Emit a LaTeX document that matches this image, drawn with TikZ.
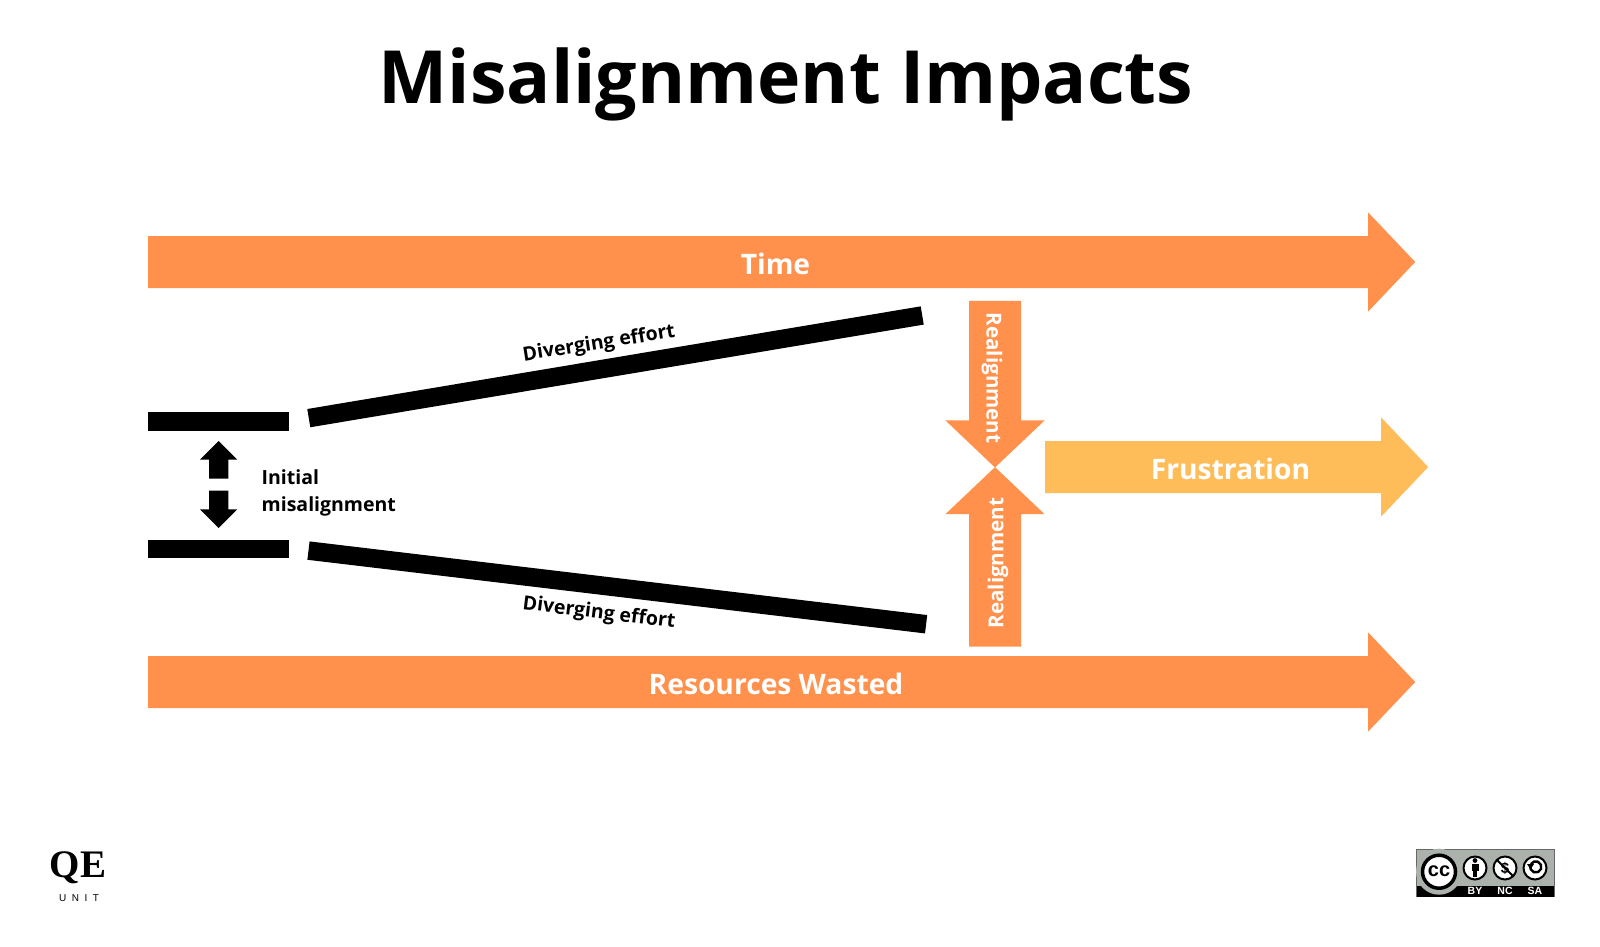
\documentclass[tikz,border=0pt]{standalone}
\usepackage{fontspec}
\usetikzlibrary{shapes.arrows}
\setmainfont{Open Sans}
\newfontfamily\logofont{Liberation Serif}
\newfontfamily\unitfont[LetterSpace=55]{Liberation Sans}
\newfontfamily\badgefont{Liberation Sans}
\definecolor{orangefill}{HTML}{FF914D}
\definecolor{yellowfill}{HTML}{FFBD59}
\definecolor{badgegrey}{HTML}{AAB2AB}
\tikzset{
	bigarrow/.style={single arrow,anchor=tail,fill=#1,inner xsep=0pt,inner ysep=25.8pt,single arrow tip angle=93,single arrow head indent=0pt,single arrow head extend=23.6pt},
	bigarrow/.default=orangefill,
	smallarrow/.style={single arrow,anchor=tail,fill=black,inner xsep=0pt,inner ysep=9.5pt,minimum height=37.5pt,single arrow head extend=9pt,single arrow tip angle=90,single arrow head indent=0pt},
	beam/.style={fill=black,inner sep=0pt,minimum width=622pt,minimum height=18.5pt},
	bar/.style={fill=black,inner sep=0pt,minimum width=141pt,minimum height=18.5pt},
	whitetext/.style={text=white,font=\bfseries\fontsize{28.2}{28.2}\selectfont,inner sep=0pt},
	smalltext/.style={font=\bfseries\fontsize{19.5}{27}\selectfont,inner sep=0pt},
	sidetext/.style={text=white,font=\bfseries\fontsize{20.6}{20.6}\selectfont,inner sep=0pt},
	badgelabel/.style={text=white,font=\badgefont\bfseries\fontsize{10.5}{10.5}\selectfont,inner sep=0pt}
}
\begin{document}
\begin{tikzpicture}[x=1pt,y=-1pt]
	\useasboundingbox (0,0) rectangle (1600,946);
	\node[anchor=base,inner sep=0pt,font=\bfseries\fontsize{73.4}{73.4}\selectfont] (title) at (786,103) {Misalignment Impacts};
	% long arrows
	\node[bigarrow,minimum height=1267pt] (timearrow) at (148,262) {};
	\node[bigarrow,minimum height=1267pt] (wastearrow) at (148,682) {};
	\node[bigarrow=yellowfill,minimum height=383pt] (frustarrow) at (1045,467) {};
	\node[whitetext] (timelabel) at (775.5,264) {Time};
	\node[whitetext] (wastelabel) at (776,684) {Resources Wasted};
	\node[whitetext] (frustlabel) at (1230.5,469) {Frustration};
	% realignment arrows
	\node[bigarrow,rotate=-90,minimum height=166.6pt] (realigntop) at (995,300.7) {};
	\node[bigarrow,rotate=90,minimum height=179.4pt] (realignbot) at (995,646.7) {};
	\node[sidetext,rotate=-90] (toplabel) at (992,378) {Realignment};
	\node[sidetext,rotate=90] (botlabel) at (998,563) {Realignment};
	% bars and beams
	\node[bar] (barup) at (218.5,421.7) {};
	\node[bar] (bardown) at (218.5,549) {};
	\node[beam,rotate=9.5] (beamup) at (615.5,366.8) {};
	\node[beam,rotate=-6.8] (beamdown) at (617.3,587.4) {};
	\node[smalltext,rotate=9] (divergeup) at (599,344) {Diverging effort};
	\node[smalltext,rotate=-7] (divergedown) at (599,613.5) {Diverging effort};
	% initial misalignment
	\node[smallarrow,rotate=90] (smallup) at (218.7,478.7) {};
	\node[smallarrow,rotate=-90] (smalldown) at (218.7,490.3) {};
	\node[smalltext,anchor=base west,align=left] (initlabel) at (261.5,511.5) {Initial\\misalignment};
	% logo
	\node[anchor=base,inner sep=0pt,font=\logofont\bfseries\fontsize{39}{39}\selectfont] (logoqe) at (78,877) {QE};
	\node[anchor=base,inner sep=0pt,font=\unitfont\fontsize{10}{10}\selectfont] (logounit) at (79,901) {UNIT};
	% licence badge
	\fill[badgegrey] (1416,849.3) rectangle (1554,886);
	\fill[black] (1416,886) rectangle (1554,896.7);
	\draw[black!60,line width=0.5pt] (1416,896.7) -- (1416,849.3) -- (1554,849.3) -- (1554,896.7);
	\fill[badgegrey] (1439,871.7) circle[radius=23];
	\draw[black,line width=3.5pt,fill=white] (1439,871.7) circle[radius=16.5];
	\node[inner sep=0pt,font=\badgefont\bfseries\fontsize{20}{20}\selectfont] (cclabel) at (1439,871.5) {cc};
	\foreach \x in {1475,1505,1535}
		\draw[black,line width=2pt,fill=white] (\x,868) circle[radius=11.5];
	% by
	\fill (1475,860.5) circle[radius=2.4];
	\fill (1471.5,863.5) rectangle (1478.5,871);
	\fill (1473,871) rectangle (1477,877);
	% nc
	\node[inner sep=0pt,font=\badgefont\bfseries\fontsize{15}{15}\selectfont] (nclabel) at (1505,868) {\$};
	\draw[line width=2pt] (1497,860) -- (1513,876);
	% sa
	\draw[line width=2.4pt] (1530.5,865) arc[start angle=200,end angle=-150,radius=5.6];
	\fill (1527,864) -- (1534,864) -- (1530.5,869.5) -- cycle;
	\node[badgelabel] (bylabel) at (1475,891.3) {BY};
	\node[badgelabel] (nclabeltwo) at (1505,891.3) {NC};
	\node[badgelabel] (salabel) at (1535,891.3) {SA};
\end{tikzpicture}
\end{document}
